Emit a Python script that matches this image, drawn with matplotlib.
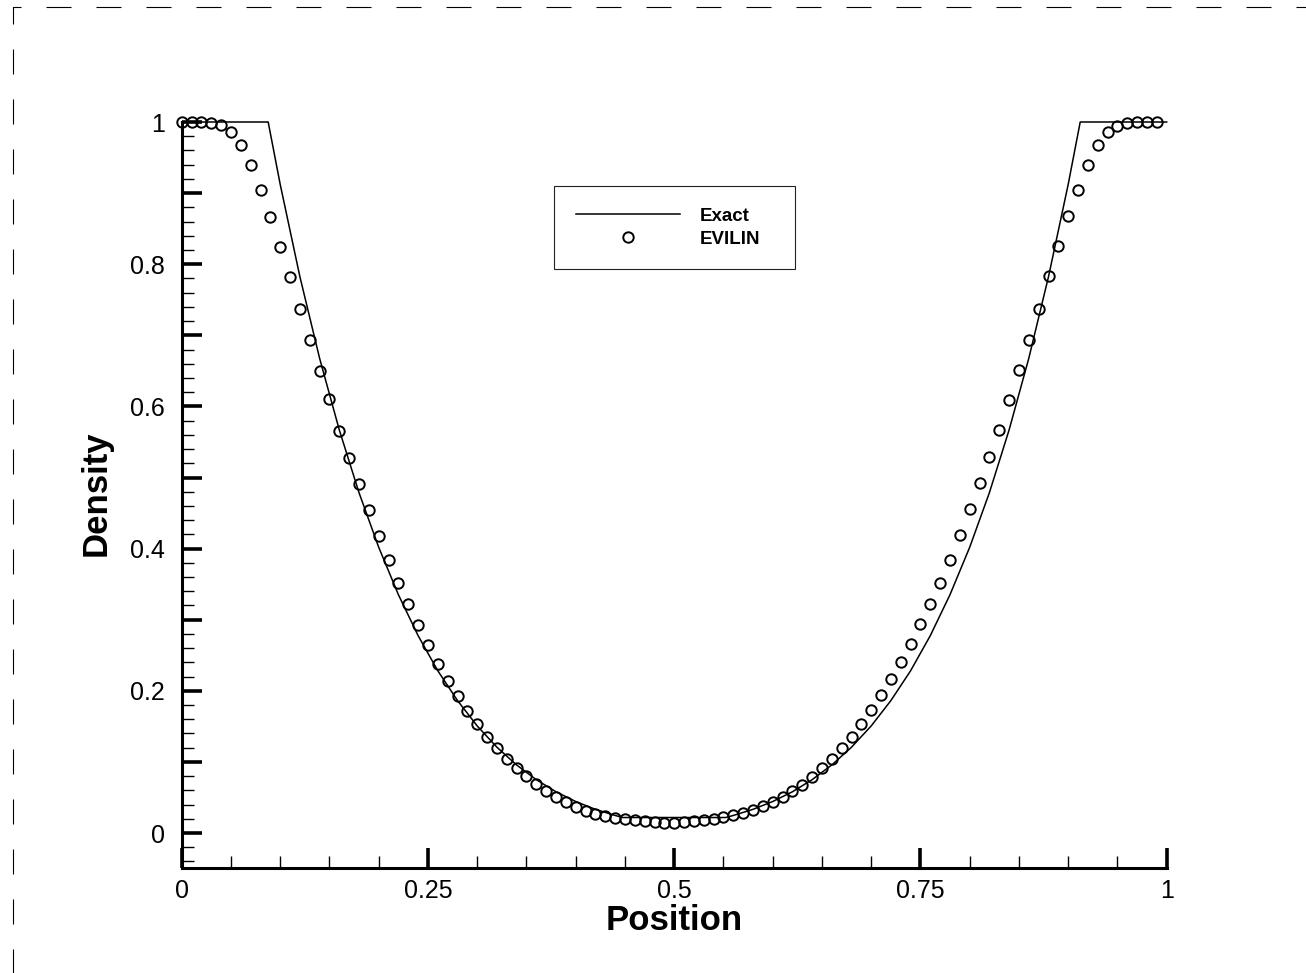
import matplotlib
matplotlib.use("Agg")
import matplotlib.pyplot as plt
from matplotlib.ticker import MultipleLocator
from matplotlib.lines import Line2D

plt.rcParams['font.family'] = ['Liberation Sans', 'DejaVu Sans']
plt.rcParams['lines.scale_dashes'] = False

# ---------------- data ----------------
exact_x = [0.0, 0.0878, 0.10, 0.12, 0.14, 0.16, 0.18, 0.20, 0.22, 0.24, 0.26,
           0.28, 0.30, 0.32, 0.34, 0.36, 0.38, 0.40, 0.42, 0.44, 0.4477,
           0.5523, 0.56, 0.58, 0.60, 0.62, 0.64, 0.66, 0.68, 0.70, 0.72,
           0.74, 0.76, 0.78, 0.80, 0.82, 0.84, 0.86, 0.88, 0.90, 0.9122, 1.0]
exact_rho = [1.0, 1.0, 0.9123, 0.7824, 0.6677, 0.5669, 0.4787, 0.4019, 0.3352,
             0.2776, 0.2282, 0.1863, 0.1506, 0.1207, 0.0957, 0.0750, 0.0580,
             0.0443, 0.0333, 0.0247, 0.0218,
             0.0218, 0.0247, 0.0333, 0.0443, 0.0580, 0.0750, 0.0957, 0.1207,
             0.1506, 0.1863, 0.2282, 0.2776, 0.3352, 0.4019, 0.4787, 0.5669,
             0.6677, 0.7824, 0.9123, 1.0, 1.0]

evilin_x = [i / 100 for i in range(100)]
evilin_rho = [1.000, 1.000, 1.000, 0.999, 0.996, 0.986, 0.967, 0.939, 0.905, 0.867,
              0.824, 0.782, 0.737, 0.693, 0.650, 0.610, 0.566, 0.527, 0.491, 0.454,
              0.418, 0.384, 0.352, 0.322, 0.293, 0.264, 0.238, 0.214, 0.193, 0.172,
              0.153, 0.135, 0.119, 0.104, 0.091, 0.080, 0.069, 0.059, 0.051, 0.043,
              0.036, 0.031, 0.027, 0.024, 0.021, 0.020, 0.018, 0.017, 0.015, 0.014,
              0.014, 0.015, 0.017, 0.018, 0.020, 0.022, 0.025, 0.028, 0.032, 0.038,
              0.044, 0.051, 0.059, 0.068, 0.079, 0.091, 0.104, 0.119, 0.135, 0.153,
              0.173, 0.194, 0.216, 0.240, 0.266, 0.294, 0.322, 0.352, 0.384, 0.419,
              0.456, 0.492, 0.529, 0.567, 0.609, 0.651, 0.693, 0.737, 0.783, 0.826,
              0.868, 0.905, 0.939, 0.967, 0.986, 0.995, 0.999, 1.000, 1.000, 1.000]

x_ticks = [0, 0.25, 0.5, 0.75, 1.0]
x_tick_labels = ['0', '0.25', '0.5', '0.75', '1']
y_ticks = [0, 0.1, 0.2, 0.3, 0.4, 0.5, 0.6, 0.7, 0.8, 0.9, 1.0]
y_tick_labels = ['0', '', '0.2', '', '0.4', '', '0.6', '', '0.8', '', '1']
legend_labels = ['Exact', 'EVILIN']
x_label = 'Position'
y_label = 'Density'

# ---------------- figure ----------------
W, H = 1306, 973
fig = plt.figure(figsize=(W / 100, H / 100), dpi=100)


def fx(px):
    return px / W


def fy(py):
    return 1 - py / H


ax = fig.add_axes([fx(181.7), fy(867.5), (1166.7 - 181.7) / W, (867.5 - 122) / H])

line_exact, = ax.plot(exact_x, exact_rho, color='black', lw=1.1,
                      clip_on=False, zorder=3, label=legend_labels[0])
pts, = ax.plot(evilin_x, evilin_rho, ls='none', marker='o', ms=7.5,
               mfc='none', mec='black', mew=1.4, clip_on=False, zorder=4,
               label=legend_labels[1])

ax.set_xlim(0, 1)
ax.set_ylim(-0.0485, 1.0)

for s in ['top', 'right']:
    ax.spines[s].set_visible(False)
for s in ['left', 'bottom']:
    ax.spines[s].set_linewidth(2.2)

ax.set_xticks(x_ticks)
ax.set_xticklabels(x_tick_labels)
ax.set_yticks(y_ticks)
ax.set_yticklabels(y_tick_labels)
ax.xaxis.set_minor_locator(MultipleLocator(0.05))
ax.yaxis.set_minor_locator(MultipleLocator(0.02))

ax.tick_params(axis='both', which='major', direction='in', length=14.4,
               width=2.6, labelsize=18, colors='black')
ax.tick_params(axis='both', which='minor', direction='in', length=8.5,
               width=1.0)
ax.tick_params(axis='x', which='major', pad=8.6)
ax.tick_params(axis='y', which='major', pad=12)

ax.set_xlabel(x_label, fontsize=25, fontweight='bold', va='top')
ax.xaxis.set_label_coords(0.5, (867.5 - 904) / 745.5)
ax.set_ylabel(y_label, fontsize=25, fontweight='bold')
ax.yaxis.set_label_coords((113 - 181.7) / 985, (867.5 - 493) / 745.5)

# legend
leg = ax.legend(handles=[line_exact, pts], labels=legend_labels,
                loc='upper left',
                bbox_to_anchor=(fx(554), fy(268), fx(795) - fx(554), fy(186) - fy(268)),
                bbox_transform=fig.transFigure, mode='expand', borderaxespad=0,
                prop={'family': 'Liberation Sans', 'weight': 'bold', 'size': 13.5},
                handlelength=5.55, handletextpad=1.07, borderpad=1.15,
                labelspacing=0.32, fancybox=False, framealpha=1,
                edgecolor='#222222', numpoints=1)
leg.get_frame().set_linewidth(0.8)

# dashed page frame
frame = Line2D([fx(13), fx(13), 1.02], [fy(975), fy(6.5), fy(6.5)],
               transform=fig.transFigure, color='black', lw=0.8,
               linestyle=(0, (18, 18)), clip_on=False)
fig.add_artist(frame)

fig.savefig('out.png', dpi=100)
